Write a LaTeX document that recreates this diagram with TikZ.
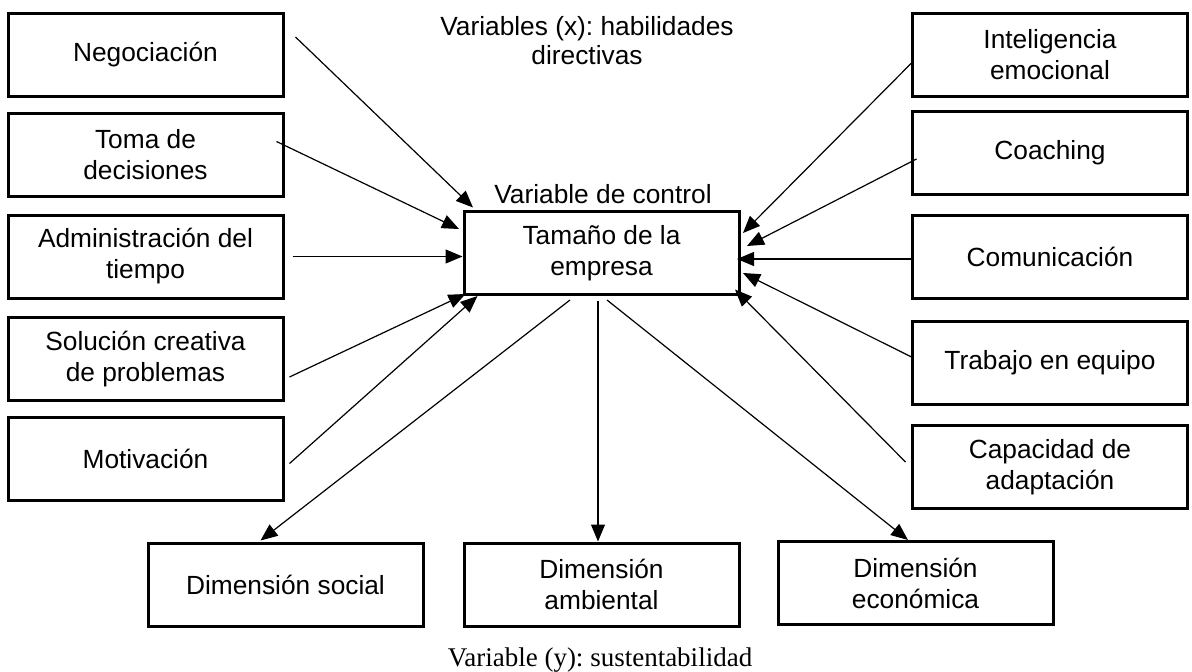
\documentclass[tikz,border=0pt]{standalone}
\usepackage{fontspec}
\setmainfont{Liberation Sans}
\newfontfamily\serifrm{Liberation Serif}
\usetikzlibrary{arrows.meta,calc}
\frenchspacing
\begin{document}
\begin{tikzpicture}[x=1pt,y=-1pt,
  box/.style={draw,line width=3pt,minimum width=275pt,minimum height=83pt,inner sep=0pt,align=center,
    font=\fontsize{26.3}{31}\selectfont},
  arr/.style={line width=1.2pt,-{Triangle[length=17pt,width=14pt]}},
  lbl/.style={inner sep=0pt,align=center,font=\fontsize{26.3}{29}\selectfont}]
\useasboundingbox (0,0) rectangle (1192,672);
% left
\node[box] (neg) at (145.5,55) {Negociación};
\node[box] (toma) at (145.5,154.5) {Toma de\\decisiones};
\node[box] (admin) at (145.5,256.5) {Administración del\\tiempo};
\node[box] (sol) at (145.5,359) {Solución creativa\\de problemas};
\node[box] (mot) at (145.5,458.5) {Motivación};
% right
\node[box] (inte) at (1050,55) {Inteligencia\\emocional};
\node[box] (coach) at (1050,153) {Coaching};
\node[box] (comu) at (1050,257) {Comunicación};
\node[box] (trab) at (1050,363) {Trabajo en equipo};
\node[box] (capa) at (1050,467) {Capacidad de\\adaptación};
% centre
\node[box] (ctr) at (601.5,253) {Tamaño de la\\empresa};
% bottom
\node[box] (soc) at (285.5,584.5) {Dimensión social};
\node[box] (amb) at (601.5,584.5) {Dimensión\\ambiental};
\node[box] (eco) at (915.5,583) {Dimensión\\económica};
% labels
\node[lbl] (title) at (587,41) {Variables (x): habilidades\\directivas};
\node[lbl,anchor=base] (ctrl) at (603,203) {Variable de control};
\node[inner sep=0pt,anchor=base,font=\serifrm\fontsize{27}{30}\selectfont] (yvar) at (600,666) {Variable (y): sustentabilidad};
% arrows left
\draw[arr] ($(neg.east)+(11,-18)$) -- ($(ctr.north west)+(10.5,-2.5)$);
\draw[arr] ($(toma.east)+(-8,-13)$) -- ($(ctr.west)+(-3.5,-24)$);
\draw[arr] ($(admin.east)+(8,0)$) -- (ctr.west |- admin.east);
\draw[arr] ($(sol.east)+(5,18)$) -- ($(ctr.south west)+(3,-2)$);
\draw[arr] ($(mot.east)+(5,5)$) -- ($(ctr.south west)+(15,0)$);
% arrows right
\draw[arr] ($(inte.west)+(1.5,7)$) -- ($(ctr.east)+(2.5,-20)$);
\draw[arr] ($(coach.west)+(5.5,6)$) -- ($(ctr.east)+(6.5,-7)$);
\draw[arr] ($(comu.west)+(2.5,2)$) -- ($(ctr.east)+(-3.5,6)$);
\draw[arr] ($(trab.west)+(2.5,-5)$) -- ($(ctr.east)+(2.5,20)$);
\draw[arr] ($(capa.west)+(-5.5,-5)$) -- ($(ctr.south east)+(-5.5,-6.5)$);
% arrows down
\draw[arr] ($(ctr.south)+(-31.5,4)$) -- ($(soc.north)+(-25,-1)$);
\draw[arr] ($(ctr.south)+(-3.5,5)$) -- ($(amb.north)+(-3.5,0)$);
\draw[arr] ($(ctr.south)+(5.5,4)$) -- ($(eco.north)+(-7.5,0)$);
\end{tikzpicture}
\end{document}
